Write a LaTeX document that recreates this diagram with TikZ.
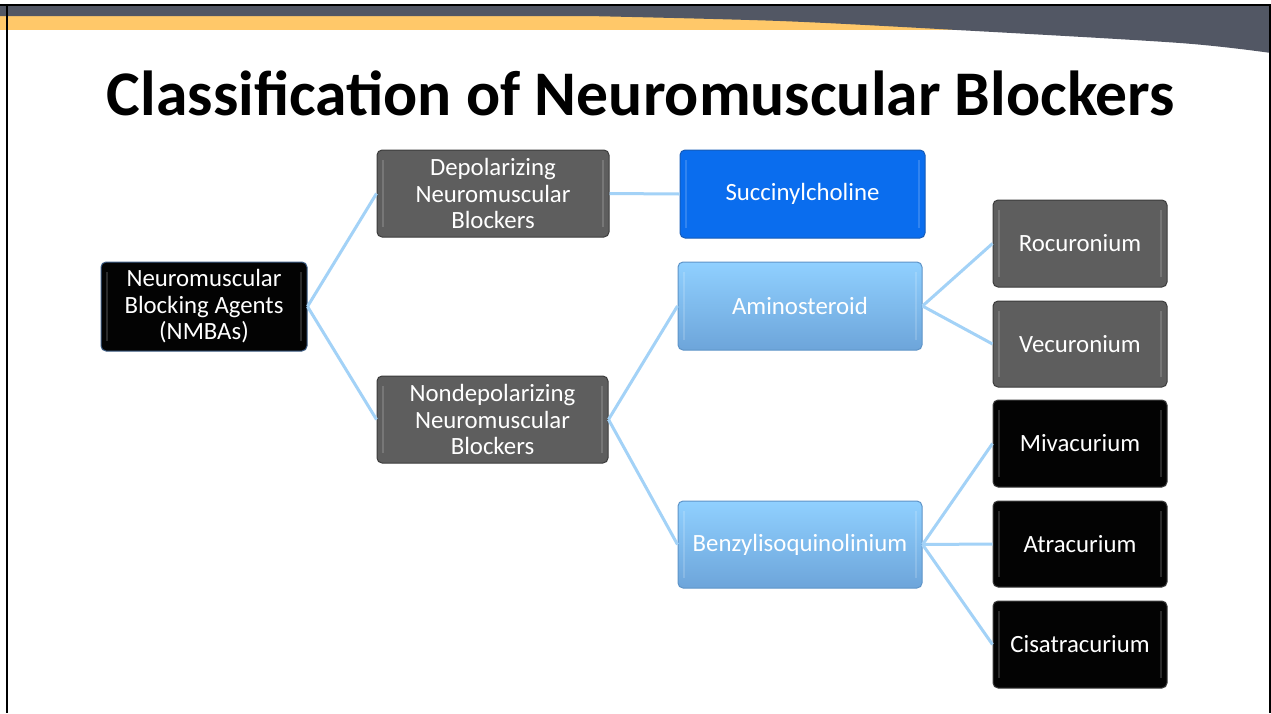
\documentclass[tikz,border=0pt]{standalone}
\usepackage{fontspec}
\setmainfont{Carlito}
\usetikzlibrary{positioning}
\definecolor{bandgray}{HTML}{525764}
\definecolor{bandyellow}{HTML}{FFC869}
\definecolor{linkblue}{HTML}{A3D2F7}
\definecolor{boxgray}{HTML}{5E5E5E}
\definecolor{boxgrayedge}{HTML}{3C3C3C}
\definecolor{boxblack}{HTML}{030303}
\definecolor{succblue}{HTML}{0A6DEE}
\definecolor{succedge}{HTML}{155BB8}
\definecolor{ltbluetop}{HTML}{90D0FF}
\definecolor{ltbluebot}{HTML}{6DA5DA}
\definecolor{ltblueedge}{HTML}{5E94C8}
\definecolor{nmbaedge}{HTML}{3F5F86}
\tikzset{
  box/.style={rounded corners=5pt, line width=1pt, align=center, text=white,
    font=\fontsize{24.8}{26.5}\selectfont, inner sep=0pt,
    path picture={
      \draw[white,opacity=.16,line width=2pt]
        ([xshift=6pt,yshift=-10pt]path picture bounding box.north west) --
        ([xshift=6pt,yshift=10pt]path picture bounding box.south west);
      \draw[white,opacity=.16,line width=2pt]
        ([xshift=-6pt,yshift=-10pt]path picture bounding box.north east) --
        ([xshift=-6pt,yshift=10pt]path picture bounding box.south east);
    }},
  graybox/.style={box, fill=boxgray, draw=boxgrayedge},
  blackbox/.style={box, fill=boxblack, draw=boxgrayedge},
  succbox/.style={box, fill=succblue, draw=succedge},
  ltbox/.style={box, top color=ltbluetop, bottom color=ltbluebot, draw=ltblueedge},
  link/.style={draw=linkblue, line width=3pt},
}
\begin{document}
\begin{tikzpicture}[x=1pt,y=-1pt]
\useasboundingbox (0,0) rectangle (1271,713);
\fill[white] (0,0) rectangle (1271,713);
% header bands
\fill[bandyellow] (0,16) rectangle (1271,30);
\fill[bandgray] (0,6) -- (1271,6) -- (1271,53)
  -- plot[smooth] coordinates {(1271,53) (1180,43) (957,30) (780,21) (588,16)}
  -- (0,16) -- cycle;
% frame
\fill[black] (0,3.5) rectangle (1271,6);
\fill[black] (5.5,3.5) rectangle (8,713);
\fill[black] (1268.5,3.5) rectangle (1271,713);
% title
\node[font=\fontsize{63.6}{70}\bfseries\selectfont, anchor=base] (title) at (641,115) {Classification of Neuromuscular Blockers};
% nodes
\node[blackbox, draw=nmbaedge, minimum width=206pt, minimum height=89pt] (nmba) at (204,306.5) {Neuromuscular\\Blocking Agents\\(NMBAs)};
\node[graybox, minimum width=232pt, minimum height=87pt] (dep) at (493,193.5) {Depolarizing\\Neuromuscular\\Blockers};
\node[graybox, minimum width=231pt, minimum height=87pt] (nondep) at (492.5,419.5) {Nondepolarizing\\Neuromuscular\\Blockers};
\node[succbox, minimum width=245pt, minimum height=88pt] (succ) at (802.5,194) {Succinylcholine};
\node[ltbox, minimum width=244pt, minimum height=88pt] (amino) at (800,306) {Aminosteroid};
\node[ltbox, minimum width=244pt, minimum height=87pt] (benz) at (800,544.5) {Benzylisoquinolinium};
\node[graybox, minimum width=174pt, minimum height=87pt] (roc) at (1080,243.5) {Rocuronium};
\node[graybox, minimum width=174pt, minimum height=86pt] (vec) at (1080,344) {Vecuronium};
\node[blackbox, minimum width=174pt, minimum height=87pt] (miv) at (1080,443.5) {Mivacurium};
\node[blackbox, minimum width=174pt, minimum height=86pt] (atr) at (1080,544) {Atracurium};
\node[blackbox, minimum width=174pt, minimum height=87pt] (cis) at (1080,644.5) {Cisatracurium};
% connectors
\draw[link] (nmba.east) -- (dep.west);
\draw[link] (nmba.east) -- (nondep.west);
\draw[link] (dep.east) -- (succ.west);
\draw[link] (nondep.east) -- (amino.west);
\draw[link] (nondep.east) -- (benz.west);
\draw[link] (amino.east) -- (roc.west);
\draw[link] (amino.east) -- (vec.west);
\draw[link] (benz.east) -- (miv.west);
\draw[link] (benz.east) -- (atr.west);
\draw[link] (benz.east) -- (cis.west);
\end{tikzpicture}
\end{document}
